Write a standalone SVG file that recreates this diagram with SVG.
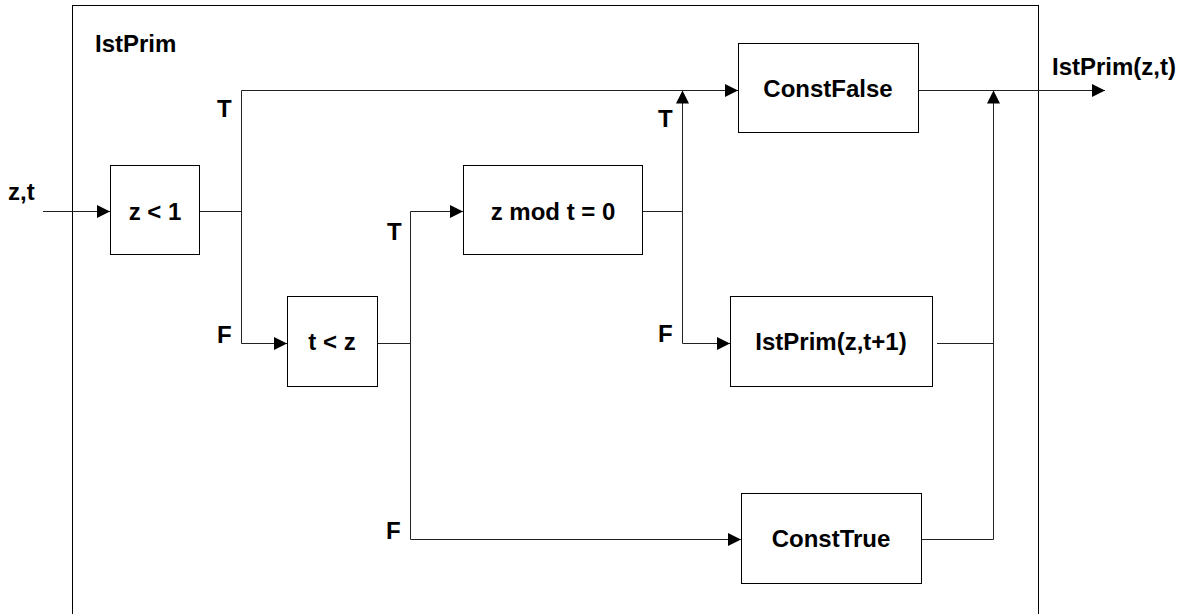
<svg xmlns="http://www.w3.org/2000/svg" width="1183" height="614" viewBox="0 0 1183 614">
  <style>
    .box { fill: #ffffff; stroke: #000000; stroke-width: 1; }
    .frame { fill: none; stroke: #000000; stroke-width: 1; }
    .wire { fill: none; stroke: #222222; stroke-width: 1; }
    .arrow { fill: none; stroke: #222222; stroke-width: 1; marker-end: url(#head); }
    text { font-family: "Liberation Sans", Arial, sans-serif; font-weight: bold; font-size: 24px; fill: #000000; }
    .mid { text-anchor: middle; }
  </style>
  <defs>
    <marker id="head" viewBox="0 0 13 13" refX="13" refY="6.5" markerWidth="13" markerHeight="13" orient="auto" markerUnits="userSpaceOnUse">
      <path d="M0,0 L13,6.5 L0,13 Z" fill="#000000"/>
    </marker>
  </defs>

  <!-- enclosing function frame -->
  <g id="frame">
    <rect class="frame" x="72.5" y="5.5" width="966" height="620"/>
    <text x="95" y="52">IstPrim</text>
  </g>

  <!-- external input / output labels -->
  <g id="input-label"><text x="8" y="200">z,t</text></g>
  <g id="output-label"><text x="1052" y="75">IstPrim(z,t)</text></g>

  <!-- connectors -->
  <g id="connectors">
    <line class="arrow" x1="43" y1="211.5" x2="110" y2="211.5"/>
    <polyline class="wire" points="199,211.5 241.5,211.5"/>
    <line class="wire" x1="241.5" y1="90.5" x2="241.5" y2="343.5"/>
    <line class="arrow" x1="241.5" y1="90.5" x2="738" y2="90.5"/>
    <line class="arrow" x1="241.5" y1="343.5" x2="287" y2="343.5"/>

    <line class="wire" x1="377" y1="343.5" x2="410.5" y2="343.5"/>
    <line class="wire" x1="410.5" y1="211.5" x2="410.5" y2="539.5"/>
    <line class="arrow" x1="410.5" y1="211.5" x2="463" y2="211.5"/>
    <line class="arrow" x1="410.5" y1="539.5" x2="741" y2="539.5"/>

    <line class="wire" x1="642" y1="211.5" x2="682.5" y2="211.5"/>
    <line class="arrow" x1="682.5" y1="343.5" x2="682.5" y2="90.5"/>
    <line class="arrow" x1="682.5" y1="343.5" x2="730" y2="343.5"/>

    <line class="wire" x1="937" y1="343.5" x2="993.5" y2="343.5"/>
    <line class="wire" x1="921" y1="539.5" x2="993.5" y2="539.5"/>
    <line class="arrow" x1="993.5" y1="539.5" x2="993.5" y2="90.5"/>
    <line class="arrow" x1="918" y1="90.5" x2="1105" y2="90.5"/>
  </g>

  <!-- branch labels -->
  <g id="branch-labels">
    <text x="217" y="117">T</text>
    <text x="217" y="343">F</text>
    <text x="387" y="240">T</text>
    <text x="386" y="539">F</text>
    <text x="658" y="127">T</text>
    <text x="658" y="342">F</text>
  </g>

  <g id="node-z-lt-1">
    <rect class="box" x="110.5" y="165.5" width="89" height="89"/>
    <text class="mid" x="155" y="220">z &lt; 1</text>
  </g>

  <g id="node-t-lt-z">
    <rect class="box" x="287.5" y="296.5" width="90" height="90"/>
    <text class="mid" x="332" y="350">t &lt; z</text>
  </g>

  <g id="node-z-mod-t">
    <rect class="box" x="463.5" y="165.5" width="179" height="89"/>
    <text class="mid" x="553" y="220">z mod t = 0</text>
  </g>

  <g id="node-const-false">
    <rect class="box" x="738.5" y="43.5" width="180" height="89"/>
    <text class="mid" x="828" y="97">ConstFalse</text>
  </g>

  <g id="node-istprim-next">
    <rect class="box" x="730.5" y="296.5" width="202" height="90"/>
    <text class="mid" x="831" y="350">IstPrim(z,t+1)</text>
  </g>

  <g id="node-const-true">
    <rect class="box" x="741.5" y="493.5" width="180" height="90"/>
    <text class="mid" x="831" y="547">ConstTrue</text>
  </g>
</svg>
